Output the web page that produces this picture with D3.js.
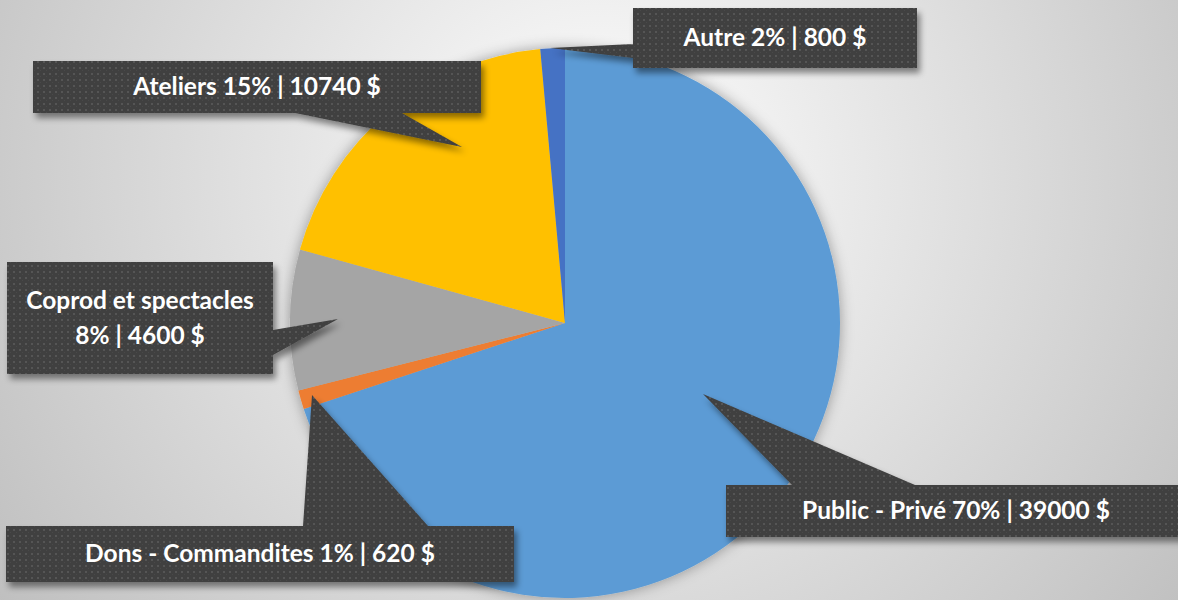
<!DOCTYPE html>
<html>
<head>
<meta charset="utf-8">
<script src="https://cdn.jsdelivr.net/npm/d3@7"></script>
<style>
  body { margin: 0; background: #fff; }
  svg { display: block; }
  .lbl { font-family: Lato, 'Open Sans', sans-serif; font-weight: 700; font-size: 24.5px; fill: #fff; }
</style>
</head>
<body>
<div id="chart"></div>
<script>
// data
const categories = ['Public - Privé', 'Dons - Commandites', 'Coprod et spectacles', 'Ateliers', 'Autre'];
const amounts = [39000, 620, 4600, 10740, 800];
const pctLabels = ['70%', '1%', '8%', '15%', '2%'];
const colors = ['#5b9bd5', '#ed7d31', '#a5a5a5', '#ffc000', '#4472c4'];

// callout geometry (box + pointer), same order as categories
const callouts = [
    { box: [726, 485, 460, 52], base: [[792, 485], [915, 485]], tip: [703, 394], split: false },
    { box: [6, 526, 508, 56], base: [[303, 526], [428, 526]], tip: [312, 395], split: false },
    { box: [7, 262, 266, 112], base: [[273, 330], [273, 355]], tip: [338, 319], split: true },
    { box: [33, 61, 448, 52], base: [[295, 113], [402, 113]], tip: [462, 147], split: false },
    { box: [633, 8, 284, 60], base: [[633, 44], [633, 58]], tip: [550, 48], split: false }
];

const W = 1178, H = 600;
const pie = { cx: 565, cy: 323, r: 275 };

const svg = d3.select('#chart')
    .append('svg')
        .attr('width', W)
        .attr('height', H);

const defs = svg.append('defs');

const bg = defs.append('radialGradient')
    .attr('id', 'bg')
    .attr('gradientUnits', 'userSpaceOnUse')
    .attr('cx', 600).attr('cy', 180).attr('r', 760);
bg.append('stop').attr('offset', '0').attr('stop-color', '#ffffff');
bg.append('stop').attr('offset', '1').attr('stop-color', '#bdbdbd');

const pat = defs.append('pattern')
    .attr('id', 'dots')
    .attr('patternUnits', 'userSpaceOnUse')
    .attr('width', 6).attr('height', 6);
pat.append('rect').attr('width', 6).attr('height', 6).attr('fill', '#404040');
pat.append('rect').attr('x', 1).attr('y', 1).attr('width', 2).attr('height', 2).attr('fill', '#555555');
pat.append('rect').attr('x', 4).attr('y', 4).attr('width', 1).attr('height', 1).attr('fill', '#4a4a4a');

const addShadow = (id, dx, dy, blur, op) => {
    const f = defs.append('filter').attr('id', id)
        .attr('x', '-20%').attr('y', '-20%').attr('width', '140%').attr('height', '140%');
    f.append('feDropShadow')
        .attr('dx', dx).attr('dy', dy)
        .attr('stdDeviation', blur)
        .attr('flood-color', '#000')
        .attr('flood-opacity', op);
};
addShadow('pieShadow', 0, 0, 7, 0.35);
addShadow('boxShadow', 3, 5, 3, 0.45);

svg.append('rect')
    .attr('width', W).attr('height', H)
    .attr('fill', 'url(#bg)');

// pie
const slices = d3.pie().sort(null).value(d => d)(amounts);
const arc = d3.arc().innerRadius(0).outerRadius(pie.r);

const pg = svg.append('g')
    .attr('transform', `translate(${pie.cx}, ${pie.cy})`)
    .attr('filter', 'url(#pieShadow)');

pg.selectAll('path')
    .data(slices)
    .enter()
    .append('path')
        .attr('d', arc)
        .attr('fill', (d, i) => colors[i]);

// callouts
const calloutPath = (c) => {
    const [x, y, w, h] = c.box;
    const p = d3.path();
    p.rect(x, y, w, h);
    p.moveTo(c.base[0][0], c.base[0][1]);
    p.lineTo(c.tip[0], c.tip[1]);
    p.lineTo(c.base[1][0], c.base[1][1]);
    p.closePath();
    return p.toString();
};

const labelLines = (i) => {
    const tail = `${pctLabels[i]} | ${amounts[i]} $`;
    return callouts[i].split ? [categories[i], tail] : [`${categories[i]} ${tail}`];
};

callouts.forEach((c, i) => {
    const g = svg.append('g').attr('class', 'callout');
    g.append('path')
        .attr('d', calloutPath(c))
        .attr('fill', 'url(#dots)')
        .attr('filter', 'url(#boxShadow)');

    const [x, y, w, h] = c.box;
    const lines = labelLines(i);
    const lh = 35;
    const y0 = y + h / 2 + 8 - (lines.length - 1) * lh / 2;
    lines.forEach((t, k) => {
        g.append('text')
            .attr('class', 'lbl')
            .attr('text-anchor', 'middle')
            .attr('x', x + w / 2)
            .attr('y', y0 + k * lh)
            .text(t);
    });
});
</script>
</body>
</html>
